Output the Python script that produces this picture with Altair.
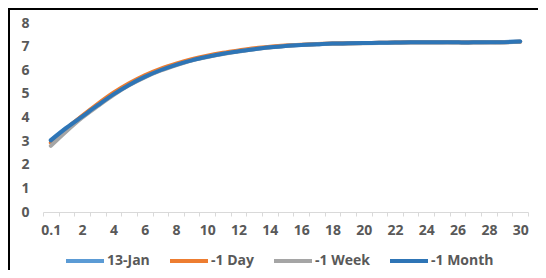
import altair as alt
import pandas as pd

categories = ["0.1"] + [str(i) for i in range(1, 31)]
series_names = ["13-Jan", "-1 Day", "-1 Week", "-1 Month"]
colors = ["#5B9BD5", "#ED7D31", "#A5A5A5", "#2E75B6"]

jan13 = [3.05, 3.57, 4.05, 4.53, 4.99, 5.39, 5.73, 6.01, 6.24, 6.43,
         6.58, 6.71, 6.81, 6.90, 6.97, 7.04, 7.07, 7.10, 7.13, 7.14,
         7.15, 7.16, 7.17, 7.18, 7.18, 7.19, 7.19, 7.19, 7.19, 7.20, 7.22]
day1 = [2.93, 3.52, 4.07, 4.58, 5.05, 5.45, 5.79, 6.06, 6.28, 6.47,
        6.62, 6.74, 6.84, 6.93, 6.99, 7.05, 7.08, 7.11, 7.13, 7.14,
        7.15, 7.16, 7.17, 7.18, 7.18, 7.18, 7.18, 7.18, 7.19, 7.19, 7.21]
week1 = [2.80, 3.42, 3.99, 4.48, 4.95, 5.36, 5.70, 5.98, 6.21, 6.41,
         6.56, 6.69, 6.79, 6.89, 6.96, 7.03, 7.07, 7.10, 7.12, 7.13,
         7.14, 7.15, 7.16, 7.17, 7.17, 7.17, 7.17, 7.17, 7.18, 7.18, 7.21]
month1 = [3.03, 3.56, 4.04, 4.52, 4.98, 5.38, 5.72, 6.00, 6.23, 6.42,
          6.57, 6.70, 6.80, 6.89, 6.97, 7.03, 7.07, 7.10, 7.13, 7.14,
          7.15, 7.16, 7.17, 7.18, 7.18, 7.18, 7.18, 7.18, 7.19, 7.19, 7.22]
y_ticks = [0, 1, 2, 3, 4, 5, 6, 7, 8]

values = {"13-Jan": jan13, "-1 Day": day1, "-1 Week": week1, "-1 Month": month1}
rows = []
for s in series_names:
    for c, v in zip(categories, values[s]):
        rows.append({"cat": c, "series": s, "v": v})
df = pd.DataFrame(rows)

FONT = "Open Sans"
LABEL_COLOR = "#595959"

label_expr = "(datum.value == '0.1' || toNumber(datum.value) % 2 == 0) ? datum.label : ''"

x_enc = alt.X(
    "cat:N", sort=categories, bandPosition=0.5,
    scale=alt.Scale(type="band", paddingInner=0, paddingOuter=0),
    axis=alt.Axis(title=None, labelAngle=0, tickBand="extent",
                  domainColor="#D9D9D9", tickColor="#D9D9D9", tickSize=4,
                  labelPadding=7, labelExpr=label_expr, labelOverlap=False,
                  labelFont=FONT, labelFontSize=14, labelFontWeight="bold",
                  labelColor=LABEL_COLOR, grid=False),
)
y_enc = alt.Y(
    "v:Q", scale=alt.Scale(domain=[0, 8], nice=False),
    axis=alt.Axis(title=None, values=y_ticks, domain=False, ticks=False,
                  grid=False, labelPadding=14, labelFont=FONT,
                  labelFontSize=14, labelFontWeight="bold", labelColor=LABEL_COLOR),
)

layers = []
for i, s in enumerate(series_names):
    legend = None
    if i == 0:
        legend = alt.Legend(title=None, orient="none", legendX=21, legendY=217,
                            direction="horizontal", symbolType="stroke",
                            symbolSize=1444, symbolStrokeWidth=4, labelOffset=1,
                            columnPadding=12, labelFont=FONT, labelFontSize=14,
                            labelFontWeight="bold", labelColor=LABEL_COLOR)
    color = alt.Color("series:N", sort=series_names,
                      scale=alt.Scale(domain=series_names, range=colors),
                      legend=legend)
    layers.append(
        alt.Chart(df).transform_filter(alt.datum.series == s)
        .mark_line(strokeWidth=4, interpolate="catmull-rom", strokeCap="round")
        .encode(x=x_enc, y=y_enc, color=color)
    )

border_df = pd.DataFrame({"a": [0]})
left_border = alt.Chart(border_df).mark_rule(color="black", strokeWidth=2).encode(
    x=alt.value(-34), y=alt.value(-15), y2=alt.value(260))
top_border = alt.Chart(border_df).mark_rule(color="black", strokeWidth=2).encode(
    y=alt.value(-14), x=alt.value(-35), x2=alt.value(520))

chart = alt.layer(*layers, left_border, top_border).properties(
    width=485, height=189,
    autosize=alt.AutoSizeParams(type="none"),
    padding={"left": 35, "top": 15, "right": 10, "bottom": 58},
    background="white",
).configure_view(stroke=None)

chart.save("out.html", embed_options={"renderer": "svg", "actions": False})
